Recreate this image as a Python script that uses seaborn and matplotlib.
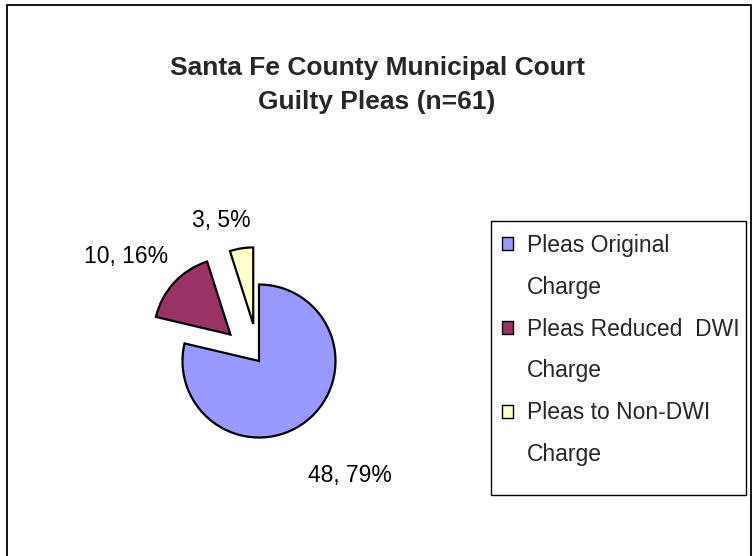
import seaborn as sns
import matplotlib.pyplot as plt
import matplotlib.patches as mpatches
import numpy as np

categories = ["Pleas Original", "Pleas Reduced  DWI", "Pleas to Non-DWI"]
legend_second_line = ["Charge", "Charge", "Charge"]
counts = [48, 10, 3]
colors = ["#9999FF", "#993366", "#FFFFCC"]
explode = [0, 0.52, 0.5]
label_dist = [1.95, 2.25, 1.94]   # distance of label from pie centre (radius units)
label_shift = [0, 4.7, 6.3]       # degrees, nudges label around the wedge

sns.set_theme(style="white")
plt.rcParams['font.family'] = ['Liberation Sans', 'DejaVu Sans']

fig = plt.figure(figsize=(7.54, 5.56), dpi=100)
fig.patch.set_facecolor("white")

# chart border
fig.patches.append(mpatches.Rectangle((7 / 754, -0.05), 744 / 754, 1.05 - 5 / 556,
                                      transform=fig.transFigure, fill=False,
                                      edgecolor="black", linewidth=1.3))

ax = fig.add_axes([109 / 754, 45 / 556, 300 / 754, 300 / 556])
wedges, _ = ax.pie(counts, colors=colors, explode=explode, startangle=90,
                   counterclock=False, radius=1.02,
                   wedgeprops=dict(edgecolor="black", linewidth=1.6))
ax.set_xlim(-2, 2)
ax.set_ylim(-2, 2)
ax.set_aspect("equal")
ax.axis("off")

total = sum(counts)
for w, c, d, s in zip(wedges, counts, label_dist, label_shift):
    ang = np.deg2rad((w.theta1 + w.theta2) / 2 + s)
    ax.text(d * np.cos(ang), d * np.sin(ang),
            f"{c}, {round(100 * c / total)}%", ha="center", va="center",
            fontsize=16.5, color="black")

fig.text(0.5, 1 - 85 / 556, "Santa Fe County Municipal Court\nGuilty Pleas (n=61)",
         ha="center", va="center", fontsize=19, fontweight="bold", linespacing=1.55)

handles, labels = [], []
for cat, second, col in zip(categories, legend_second_line, colors):
    handles.append(mpatches.Patch(facecolor=col, edgecolor="black", linewidth=1))
    labels.append(cat)
    handles.append(mpatches.Patch(facecolor="none", edgecolor="none"))
    labels.append(second)

# legend frame drawn separately, Excel-style box
fig.patches.append(mpatches.Rectangle((491 / 754, 1 - 495 / 556), 255 / 754, 274 / 556,
                                      transform=fig.transFigure, fill=False,
                                      edgecolor="black", linewidth=1))

leg = fig.legend(handles, labels, loc="upper left",
                 bbox_to_anchor=(502 / 754, 1 - 234 / 556),
                 bbox_transform=fig.transFigure, borderaxespad=0,
                 fontsize=16.5, frameon=False,
                 handlelength=0.5, handleheight=0.5, handletextpad=0.6,
                 labelspacing=0.82, borderpad=0)

fig.savefig("out.png", dpi=100)
